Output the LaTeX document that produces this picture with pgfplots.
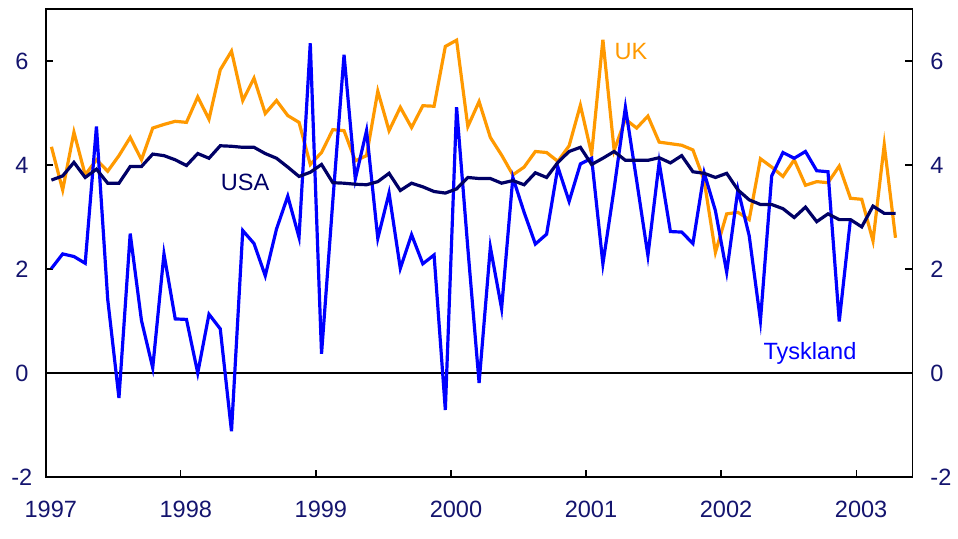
\documentclass[border=0pt]{standalone}
\usepackage{pgfplots}
\pgfplotsset{compat=1.18}
\usepackage{fontspec}
\setmainfont{Liberation Sans}

\definecolor{ukorange}{RGB}{255,153,0}
\definecolor{deblue}{RGB}{0,0,255}
\definecolor{usnavy}{RGB}{0,0,102}
\definecolor{tickcol}{RGB}{20,20,110}

% monthly values, index 0 = Jan 1997
\pgfplotstableread{
i uk usa
0 4.35 3.71
1 3.52 3.79
2 4.63 4.05
3 3.81 3.76
4 4.10 3.92
5 3.88 3.65
6 4.18 3.65
7 4.53 3.97
8 4.10 3.97
9 4.71 4.21
10 4.78 4.18
11 4.84 4.10
12 4.82 3.99
13 5.31 4.22
14 4.88 4.13
15 5.83 4.37
16 6.19 4.36
17 5.24 4.34
18 5.67 4.34
19 4.99 4.22
20 5.24 4.13
21 4.95 3.96
22 4.82 3.78
23 4.01 3.86
24 4.24 4.01
25 4.68 3.66
26 4.66 3.65
27 4.08 3.63
28 4.18 3.62
29 5.42 3.68
30 4.66 3.84
31 5.11 3.51
32 4.72 3.65
33 5.14 3.58
34 5.13 3.49
35 6.28 3.46
36 6.40 3.54
37 4.74 3.76
38 5.22 3.74
39 4.53 3.74
40 4.19 3.65
41 3.81 3.70
42 3.96 3.62
43 4.26 3.85
44 4.24 3.76
45 4.07 4.05
46 4.37 4.26
47 5.15 4.34
48 4.21 4.01
49 6.41 4.13
50 4.28 4.26
51 4.88 4.09
52 4.71 4.09
53 4.94 4.09
54 4.44 4.14
55 4.41 4.04
56 4.38 4.18
57 4.29 3.87
58 3.70 3.84
59 2.32 3.76
60 3.06 3.84
61 3.09 3.52
62 2.95 3.33
63 4.12 3.24
64 3.96 3.24
65 3.78 3.16
66 4.10 2.99
67 3.61 3.19
68 3.68 2.91
69 3.66 3.06
70 3.98 2.95
71 3.36 2.95
72 3.34 2.81
73 2.54 3.21
74 4.39 3.07
75 2.60 3.07
}\ukusa

\pgfplotstableread{
i de
0 2.01
1 2.29
2 2.24
3 2.11
4 4.74
5 1.42
6 -0.48
7 2.68
8 1.01
9 0.10
10 2.29
11 1.04
12 1.03
13 0.00
14 1.13
15 0.85
16 -1.12
17 2.74
18 2.49
19 1.87
20 2.77
21 3.40
22 2.61
23 6.34
24 0.37
25 3.30
26 6.12
27 3.73
28 4.66
29 2.59
30 3.46
31 2.01
32 2.66
33 2.10
34 2.27
35 -0.71
36 5.11
37 2.40
38 -0.19
39 2.42
40 1.24
41 3.76
42 3.09
43 2.48
44 2.67
45 3.96
46 3.30
47 4.02
48 4.13
49 2.10
50 3.55
51 5.11
52 3.70
53 2.26
54 4.05
55 2.72
56 2.71
57 2.49
58 3.85
59 3.12
60 1.94
61 3.53
62 2.64
63 1.01
64 3.79
65 4.24
66 4.13
67 4.26
68 3.89
69 3.87
70 0.99
71 2.96
}\germany

\begin{document}
\begin{tikzpicture}
\pgfplotsset{
    every axis/.append style={
        at={(0,0)}, anchor=south west,
        scale only axis,
        width=434.2pt, height=234.5pt,
        xmin=-0.5, xmax=76.5,
        ymin=-2, ymax=7,
        axis line style={line width=0.75pt},
        tick style={black, line width=0.6pt},
        tick align=inside,
        major tick length=3.5pt,
        ytick={-2,0,2,4,6},
        /pgf/number format/assume math mode=true,
        tick label style={font=\fontsize{11.8pt}{13pt}\selectfont, text=tickcol},
    }
}
\begin{axis}[
    xtick={-0.5,11.5,23.5,35.5,47.5,59.5,71.5},
    xticklabels={1997,1998,1999,2000,2001,2002,2003},
    xtick pos=bottom,
    ytick pos=left,
    xticklabel style={anchor=center, yshift=-16pt, xshift=2.5pt},
    yticklabel style={anchor=center, xshift=-12pt},
    clip=true,
]
    \addplot[black, line width=0.6pt] coordinates {(-0.5,0) (76.5,0)};
    \addplot[ukorange, line width=1.6pt] table[x=i, y=uk] {\ukusa};
    \addplot[deblue, line width=1.6pt] table[x=i, y=de] {\germany};
    \addplot[usnavy, line width=1.6pt] table[x=i, y=usa] {\ukusa};

    \node[text=ukorange, font=\fontsize{11.8pt}{13pt}\selectfont] at (axis cs:51.5,6.19) {UK};
    \node[text=usnavy, font=\fontsize{11.8pt}{13pt}\selectfont] at (axis cs:17.2,3.67) {USA};
    \node[text=deblue, font=\fontsize{11.8pt}{13pt}\selectfont] at (axis cs:67.4,0.37) {Tyskland};
\end{axis}
\begin{axis}[
    xtick=\empty,
    ytick pos=right,
    yticklabel pos=right,
    yticklabel style={anchor=west, xshift=5.5pt},
]
\end{axis}
\path (-22.95pt,-31pt) rectangle (456.05pt,239pt);
\end{tikzpicture}
\end{document}
